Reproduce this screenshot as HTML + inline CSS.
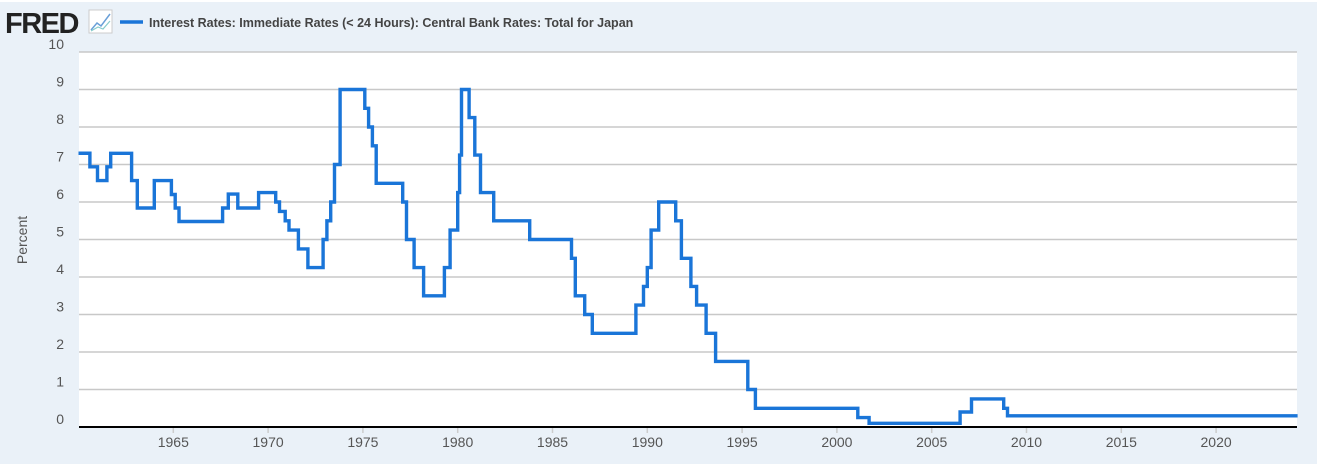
<!DOCTYPE html>
<html><head><meta charset="utf-8"><style>
body{margin:0;background:#fff;}
#c{width:1317px;height:464px;background:#eaf1f8;position:relative;overflow:hidden;font-family:"Liberation Sans",sans-serif;}
</style></head><body><div id="c">
<svg width="1317" height="464" xmlns="http://www.w3.org/2000/svg" id="s">
<rect x="0" y="0" width="1317" height="2" fill="#fff"/>
<text x="5" y="33" font-size="29" font-weight="bold" fill="#222" letter-spacing="-1.5" font-family="Liberation Sans">FRED</text>
<rect x="89" y="10" width="23" height="23" fill="#fff" stroke="#ccc"/>
<polyline points="91,30 97,23 101,26 110,14" fill="none" stroke="#6aa0d8" stroke-width="1.5"/>
<polyline points="91,31 98,27 103,29 110,21" fill="none" stroke="#8cc" stroke-width="1.2"/>
<line x1="120" y1="22" x2="143" y2="22" stroke="#1a75d8" stroke-width="3.5"/>
<text x="149" y="27" font-size="12.5" font-weight="bold" fill="#444">Interest Rates: Immediate Rates (&lt; 24 Hours): Central Bank Rates: Total for Japan</text>
<rect x="79" y="52" width="1218" height="375" fill="#fff"/>
<g id="grid" stroke="#c8c8c8" stroke-width="1.5"></g>
<g id="lab" font-size="14" fill="#555"></g>
<text transform="translate(27,240) rotate(-90)" font-size="14" fill="#555" text-anchor="middle">Percent</text>
<path id="p" fill="none" stroke="#1a75d8" stroke-width="3.4" stroke-linejoin="miter"/>
<line x1="79" y1="427" x2="1297" y2="427" stroke="#000" stroke-width="2"/>
</svg></div>
<script>
var ns="http://www.w3.org/2000/svg";
function Y(v){return 427-37.5*v}
function X(y){return 173.3+(y-1965)*18.96}
var g=document.getElementById('grid'),l=document.getElementById('lab');
for(var v=1;v<=10;v++){var e=document.createElementNS(ns,'line');e.setAttribute('x1',79);e.setAttribute('x2',1297);e.setAttribute('y1',Y(v));e.setAttribute('y2',Y(v));g.appendChild(e);}
for(var v=0;v<=10;v++){var t=document.createElementNS(ns,'text');t.setAttribute('x',64);t.setAttribute('y',Y(v)-3);t.setAttribute('text-anchor','end');t.textContent=v;l.appendChild(t);}
for(var yr=1965;yr<=2020;yr+=5){var t=document.createElementNS(ns,'text');t.setAttribute('x',X(yr));t.setAttribute('y',447);t.setAttribute('text-anchor','middle');t.textContent=yr;l.appendChild(t);
var e=document.createElementNS(ns,'line');e.setAttribute('x1',X(yr));e.setAttribute('x2',X(yr));e.setAttribute('y1',427);e.setAttribute('y2',433);e.setAttribute('stroke','#ccc');g.appendChild(e);}
var d=[[1960,7.3],[1960.6,6.94],[1961,6.57],[1961.5,6.94],[1961.7,7.3],[1962.8,6.57],[1963.1,5.84],[1964,6.57],[1964.9,6.2],[1965.1,5.84],[1965.3,5.48],[1967.6,5.84],[1967.9,6.21],[1968.4,5.84],[1969.5,6.25],[1970.4,6.0],[1970.6,5.75],[1970.9,5.5],[1971.1,5.25],[1971.6,4.75],[1972.1,4.25],[1972.9,5.0],[1973.1,5.5],[1973.3,6.0],[1973.5,7.0],[1973.8,9.0],[1975.1,8.5],[1975.3,8.0],[1975.5,7.5],[1975.7,6.5],[1977.1,6.0],[1977.3,5.0],[1977.7,4.25],[1978.2,3.5],[1979.3,4.25],[1979.6,5.25],[1980,6.25],[1980.1,7.25],[1980.2,9.0],[1980.6,8.25],[1980.9,7.25],[1981.2,6.25],[1981.9,5.5],[1983.8,5.0],[1986,4.5],[1986.2,3.5],[1986.7,3.0],[1987.1,2.5],[1989.4,3.25],[1989.8,3.75],[1990,4.25],[1990.2,5.25],[1990.6,6.0],[1991.5,5.5],[1991.8,4.5],[1992.3,3.75],[1992.6,3.25],[1993.1,2.5],[1993.6,1.75],[1995.3,1.0],[1995.7,0.5],[2001.1,0.25],[2001.7,0.1],[2006.5,0.4],[2007.1,0.75],[2008.8,0.5],[2009,0.3],[2024.3,0.3]];
var s="M"+X(d[0][0])+","+Y(d[0][1]);
for(var i=1;i<d.length;i++){var x=X(d[i][0]);s+=" H"+x.toFixed(1)+(i<d.length-1?" V"+Y(d[i][1]).toFixed(1):"");}
document.getElementById('p').setAttribute('d',s);
</script>
</body></html>
